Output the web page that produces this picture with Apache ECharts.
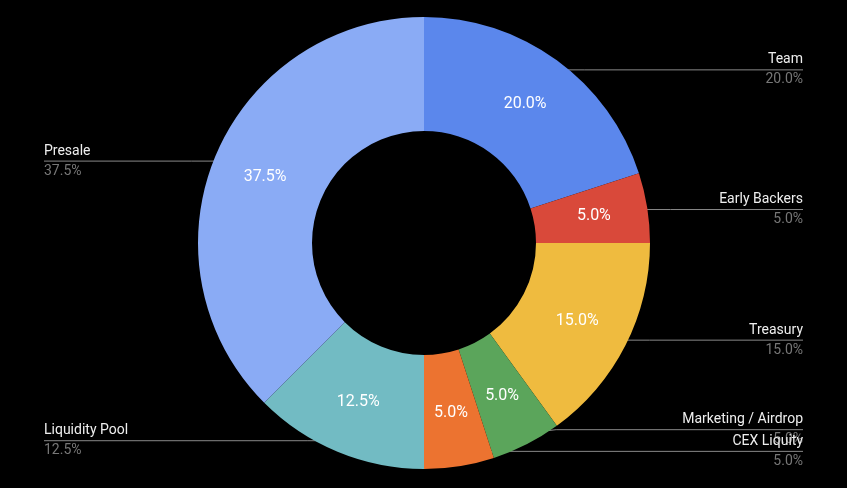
<!DOCTYPE html>
<html><head><meta charset="utf-8">
<script src="https://cdn.jsdelivr.net/npm/echarts@6/dist/echarts.min.js"></script>
<style>html,body{margin:0;background:#000}#main{width:847px;height:488px}</style>
</head><body><div id="main"></div>
<script>
var names = ["Team", "Early Backers", "Treasury", "Marketing / Airdrop", "CEX Liquity", "Liquidity Pool", "Presale"];
var values = [20, 5, 15, 5, 5, 12.5, 37.5];
var colors = ["#5b87ec", "#d9493a", "#efbb3f", "#5ba55b", "#ec7330", "#72bbc3", "#8aabf5"];
var labelYShift = [0, 0, 0, -4, -3, 0, 0];

var cx = 424, cy = 243, rIn = 112, rOut = 226, rDot = 214;
var total = values.reduce(function (s, v) { return s + v; }, 0);
var data = names.map(function (n, i) { return {name: n, value: values[i], itemStyle: {color: colors[i]}}; });

function dotOf(i) {
  var before = 0;
  for (var k = 0; k < i; k++) before += values[k];
  var a = (before + values[i] / 2) / total * 2 * Math.PI;
  return [cx + rDot * Math.sin(a), cy - rDot * Math.cos(a)];
}

var chart = echarts.init(document.getElementById("main"));
chart.setOption({
  backgroundColor: "#000",
  series: [{
    type: "pie", radius: [rIn, rOut], center: [cx, cy], startAngle: 90, clockwise: true,
    silent: true, data: data,
    label: {position: "inside", color: "#fff", fontSize: 16, fontFamily: "Roboto",
      formatter: function (p) { return p.value.toFixed(1) + "%"; }}
  }, {
    type: "pie", radius: [rIn, rOut], center: [cx, cy], startAngle: 90, clockwise: true, silent: true,
    data: names.map(function (n, i) { return {name: n, value: values[i], itemStyle: {color: "rgba(0,0,0,0)"}}; }),
    label: {
      formatter: function (p) { return "{n|" + p.name + "}\n{p|" + p.value.toFixed(1) + "%}"; },
      rich: {
        n: {color: "#eee", fontSize: 14, fontFamily: "Roboto", lineHeight: 20},
        p: {color: "#777", fontSize: 14, fontFamily: "Roboto", lineHeight: 20}
      }
    },
    labelLine: {show: true, lineStyle: {color: "#888", width: 1}},
    labelLayout: function (p) {
      var d = dotOf(p.dataIndex);
      var right = d[0] > cx;
      var ex = right ? 803 : 44;
      var y = d[1] + labelYShift[p.dataIndex];
      return {x: ex, y: y, align: right ? "right" : "left", verticalAlign: "middle",
        labelLinePoints: [[d[0], d[1]], [right ? d[0] + 35 : d[0] - 35, y], [ex, y]]};
    }
  }]
});
</script></body></html>
